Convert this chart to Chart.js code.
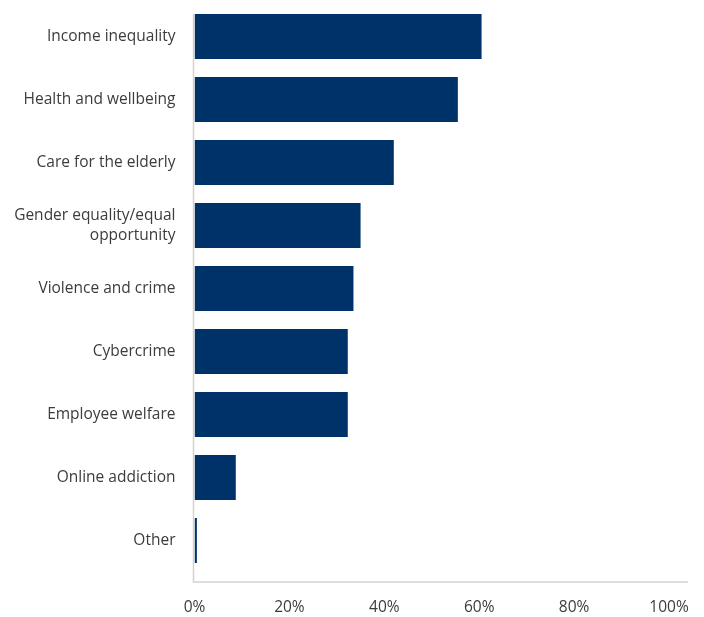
<!DOCTYPE html>
<html>
<head>
<meta charset="utf-8">
<script src="https://cdn.jsdelivr.net/npm/chart.js@4/dist/chart.umd.min.js"></script>
<style>
  html, body { margin: 0; padding: 0; background: #ffffff; }
  #wrap { width: 704px; height: 617px; position: relative; }
</style>
</head>
<body>
<div id="wrap"><canvas id="chart"></canvas></div>
<script>
// Social issues, share of respondents (%)
const categories = [
  'Income inequality',
  'Health and wellbeing',
  'Care for the elderly',
  ['Gender equality/equal', 'opportunity'],
  'Violence and crime',
  'Cybercrime',
  'Employee welfare',
  'Online addiction',
  'Other'
];
const shares = [60.5, 55.5, 42, 35, 33.5, 32.3, 32.3, 8.7, 0.5];
const tickValues = [0, 20, 40, 60, 80, 100];

const BAR = '#00326a';
const AXIS = '#d6d1cc';
const TEXT = '#3c3c3c';
const FONT = "'Open Sans', 'Noto Sans', sans-serif";

// Axis lines drawn a little outside the plot so the baseline sits below the last bar
const axisLines = {
  id: 'axisLines',
  afterDraw(chart) {
    const { ctx, chartArea } = chart;
    const x0 = chartArea.left - 1;
    const yBase = chartArea.bottom + 10;
    ctx.save();
    ctx.strokeStyle = AXIS;
    ctx.lineWidth = 1.5;
    ctx.beginPath();
    ctx.moveTo(x0, chartArea.top + 9);
    ctx.lineTo(x0, yBase);
    ctx.lineTo(chartArea.right + 19, yBase);
    ctx.stroke();
    ctx.restore();
  }
};

new Chart(document.getElementById('chart'), {
  type: 'bar',
  data: {
    labels: categories,
    datasets: [{
      data: shares,
      backgroundColor: BAR,
      borderWidth: 0,
      categoryPercentage: 1,
      barPercentage: 0.714
    }]
  },
  options: {
    indexAxis: 'y',
    responsive: true,
    maintainAspectRatio: false,
    animation: false,
    layout: { padding: { top: 5, right: 35, bottom: 0, left: 0 } },
    plugins: {
      legend: { display: false },
      tooltip: { enabled: false }
    },
    scales: {
      x: {
        min: 0,
        max: 100,
        afterBuildTicks(scale) {
          scale.ticks = tickValues.map(v => ({ value: v }));
        },
        afterFit(scale) {
          scale.height = 45;
          scale.paddingLeft = 0; scale.paddingRight = 0;
          scale.paddingTop = 0; scale.paddingBottom = 0;
        },
        grid: { display: false, drawTicks: false },
        border: { display: false },
        ticks: {
          padding: 26,
          color: TEXT,
          font: { family: FONT, size: 15.5 },
          callback: v => v + '%'
        }
      },
      y: {
        afterFit(scale) {
          scale.width = 194.5;
          scale.paddingLeft = 0; scale.paddingRight = 0;
          scale.paddingTop = 0; scale.paddingBottom = 0;
        },
        grid: { display: false, drawTicks: false },
        border: { display: false },
        ticks: {
          padding: 19,
          color: TEXT,
          font: { family: FONT, size: 15.5, lineHeight: 1.25 }
        }
      }
    }
  },
  plugins: [axisLines]
});
</script>
</body>
</html>
